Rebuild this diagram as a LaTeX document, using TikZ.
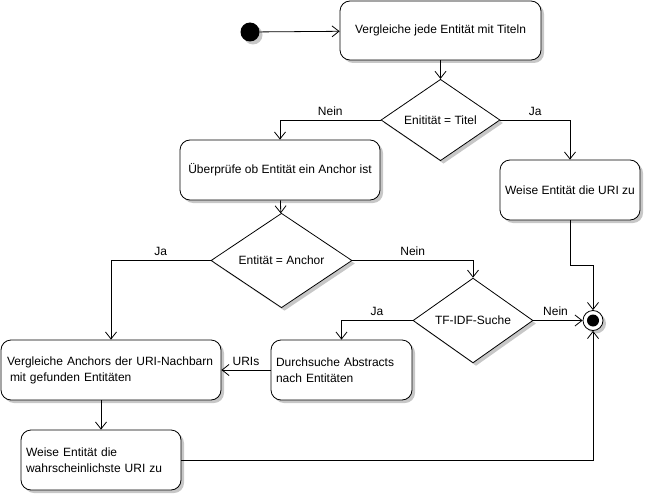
\documentclass[tikz,border=0pt]{standalone}
\usepackage{fontspec}
\setmainfont{Liberation Sans}
\usetikzlibrary{arrows.meta,shadows,shapes.geometric}
\begin{document}
\begin{tikzpicture}[x=1pt,y=-1pt,
  font=\fontsize{12}{16}\selectfont,
  shad/.style={drop shadow={shadow xshift=3pt,shadow yshift=-3pt,fill=black!22,opacity=1}},
  actbox/.style={draw=black,fill=white,rounded corners=10pt,inner sep=0pt,shad,line width=0.8pt},
  dec/.style={draw=black,fill=white,diamond,inner sep=0pt,shad,line width=0.8pt},
  arr/.style={line width=0.8pt,-{Straight Barb[length=7pt,width=11pt,line width=0.8pt]}},
  lbl/.style={font=\fontsize{12}{14}\selectfont,inner sep=1pt}
]
\useasboundingbox (0,0) rectangle (645,495);
% start
\node[circle,fill=black,minimum size=19pt,inner sep=0pt,shad] (start) at (250,32) {};
% boxes
\node[actbox,minimum width=201pt,minimum height=59pt] (b1) at (440.5,30.5) {Vergleiche jede Entität mit Titeln};
\node[dec,minimum width=119pt,minimum height=79pt] (d1) at (440.5,120) {Enitität = Titel};
\node[actbox,minimum width=200pt,minimum height=60pt] (b2) at (280,170) {Überprüfe ob Entität ein Anchor ist};
\node[actbox,minimum width=140pt,minimum height=60pt] (b3) at (570,190) {Weise Entität die URI zu};
\node[dec,minimum width=141pt,minimum height=79pt] (d2) at (281.5,260.5) {Entität = Anchor};
\node[dec,minimum width=120pt,minimum height=79pt] (d3) at (473,320.5) {TF-IDF-Suche};
\node[actbox,minimum width=220pt,minimum height=60pt,text width=208pt,align=left,inner xsep=6pt] (b4) at (111,370) {Vergleiche Anchors der URI-Nachbarn\\\hspace*{3pt}mit gefunden Entitäten};
\node[actbox,minimum width=141pt,minimum height=60pt,text width=131pt,align=left,inner xsep=5pt] (b5) at (341.5,370) {Durchsuche Abstracts\\nach Entitäten};
\node[actbox,minimum width=160pt,minimum height=60pt,text width=150pt,align=left,inner xsep=5pt] (b6) at (101,460) {Weise Entität die\\wahrscheinlichste URI zu};
% end
\node[circle,draw=black,fill=white,line width=0.8pt,minimum size=20pt,inner sep=0pt,shad] (end) at (593,320.5) {};
\node[circle,fill=black,minimum size=12pt,inner sep=0pt] (endin) at (end) {};
\coordinate (k) at (593,265);
% connectors
\draw[arr] (start) -- (b1);
\draw[arr] (b1) -- (d1);
\draw[arr] (d1.west) -| node[lbl,pos=0.25,above=3pt] {Nein} (b2.north);
\draw[arr] (d1.east) -| node[lbl,pos=0.25,above=3pt] {Ja} (b3.north);
\draw[arr] (b2) -- (d2);
\draw[arr] (d2.west) -| node[lbl,pos=0.25,above=3pt] {Ja} (b4.north);
\draw[arr] (d2.east) -| node[lbl,pos=0.25,above=3pt] {Nein} (d3.north);
\draw[arr] (d3.west) -| node[lbl,pos=0.25,above=3pt] {Ja} (b5.north);
\draw[arr] (d3.east) -- node[lbl,pos=0.45,above=3pt] {Nein} (end.west);
\draw[arr] (b5.west) -- node[lbl,above=3pt] {URIs} (b4.east);
\draw[arr] (b6.north |- b4.south) -- (b6.north);
\draw[arr] (b3.south) |- (k) -- (end.north);
\draw[arr] (b6.east) -| (end.south);
\end{tikzpicture}
\end{document}
